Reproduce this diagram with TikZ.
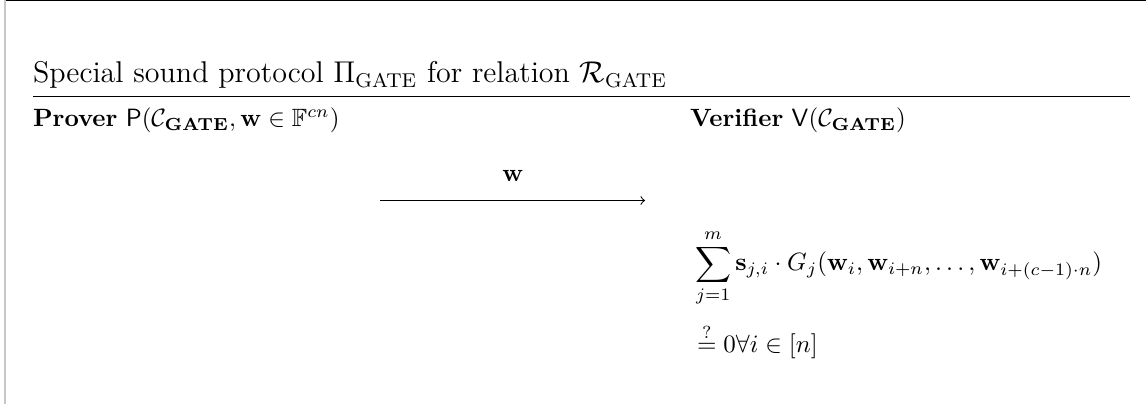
\documentclass[tikz,border=0pt]{standalone}
\usepackage{amsmath,amssymb}
\tikzset{
  txt/.style={anchor=base west, inner sep=0pt, outer sep=0pt},
  msg/.style={anchor=base, inner sep=0pt},
  rulestyle/.style={line width=0.4pt, black},
  frametop/.style={line width=0.8pt, black},
  frameleft/.style={line width=0.5pt, black!22},
}
\begin{document}
\begin{tikzpicture}[x=0.4pt,y=-0.4pt]
\useasboundingbox (0,0) rectangle (1146,404);
% frame fragments
\coordinate (tl) at (5,0);
\coordinate (tr) at (1146,0);
\coordinate (bl) at (5,404);
\draw[frametop] (tl) -- (tr);
\draw[frameleft] (tl) -- (bl);
% title
\node[txt] (title) at (33,83) {\large Special sound protocol $\Pi_{\mathrm{GATE}}$ for relation $\mathcal{R}_{\mathrm{GATE}}$};
\coordinate (rl) at (33,97);
\coordinate (rr) at (1130,97);
\draw[rulestyle] (rl) -- (rr);
% parties
\node[txt] (prover) at (33,127) {\textbf{Prover} $\mathsf{P}(\mathcal{C}_{\mathbf{GATE}}, \mathbf{w} \in \mathbb{F}^{cn})$};
\node[txt] (verifier) at (690,127) {\textbf{Verifier} $\mathsf{V}(\mathcal{C}_{\mathbf{GATE}})$};
% message
\coordinate (as) at (380,200.5);
\coordinate (ae) at (645,200.5);
\draw[->, rulestyle] (as) -- (ae);
\node[msg] (w) at (513,182) {$\mathbf{w}$};
% check
\node[txt] (sum) at (695,271) {$\displaystyle\sum_{j=1}^{m} \mathbf{s}_{j,i}\cdot G_j(\mathbf{w}_i, \mathbf{w}_{i+n}, \ldots, \mathbf{w}_{i+(c-1)\cdot n})$};
\node[txt] (eq) at (697,353) {$\stackrel{?}{=} 0 \forall i \in [n]$};
\end{tikzpicture}
\end{document}
